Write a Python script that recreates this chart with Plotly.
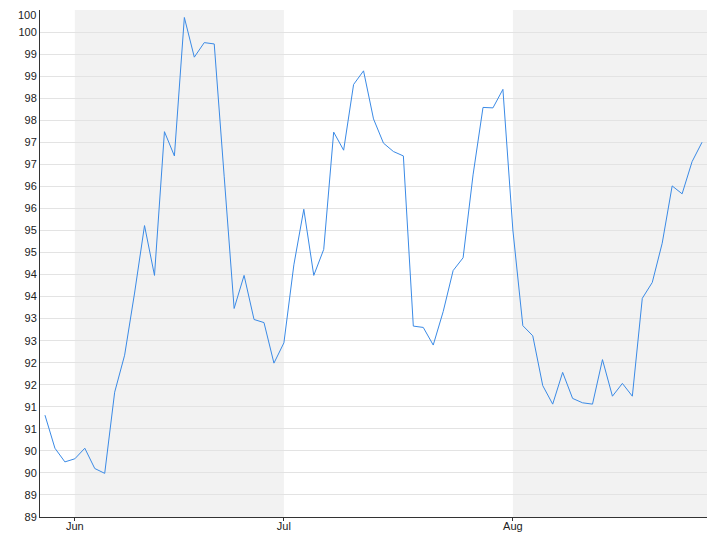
import plotly.graph_objects as go
import pandas as pd
import math

# business days from 2014-05-28 to 2014-08-28
dates = pd.bdate_range("2014-05-28", "2014-08-28").strftime("%Y-%m-%d").tolist()

values = [
    91.31, 90.56, 90.25, 90.32, 90.56, 90.10, 89.99, 91.83, 92.67, 94.08,
    95.61, 94.48, 97.74, 97.19, 100.33, 99.43, 99.76, 99.73, 96.73, 93.73,
    94.48, 93.48, 93.41, 92.49, 92.95, 94.72, 95.98, 94.48, 95.07, 97.73,
    97.32, 98.81, 99.12, 98.03, 97.48, 97.29, 97.19, 93.33, 93.30, 92.90,
    93.66, 94.59, 94.88, 96.76, 98.29, 98.28, 98.70, 95.51, 93.34, 93.11,
    91.98, 91.56, 92.28, 91.69, 91.59, 91.56, 92.57, 91.74, 92.03, 91.74,
    93.96, 94.32, 95.21, 96.51, 96.33, 97.06, 97.50,
]

y_ticks = [89 + 0.5 * k for k in range(24)]
y_ticktext = [str(math.floor(v)) for v in y_ticks]

# month starts (first trading day of each month)
x_tickvals = ["2014-06-02", "2014-07-01", "2014-08-01"]
x_ticktext = ["Jun", "Jul", "Aug"]

bands = [("2014-06-02", "2014-07-01"), ("2014-08-01", "2014-08-28 12:00")]
x_range = ["2014-05-27 12:00", "2014-08-28 12:00"]

fig = go.Figure()
fig.add_trace(go.Scatter(
    x=dates, y=values, mode="lines",
    line=dict(color="#3a8ae6", width=1),
    hoverinfo="x+y",
))

for x0, x1 in bands:
    fig.add_shape(type="rect", xref="x", yref="paper", x0=x0, x1=x1, y0=0, y1=1,
                  fillcolor="#f2f2f2", line=dict(width=0), layer="below")

# topmost tick label is drawn as an annotation kept inside the page
axis_text = y_ticktext[:-1] + [""]
fig.add_annotation(
    text=y_ticktext[-1], xref="paper", yref="paper", x=0, y=1,
    xanchor="right", yanchor="top", xshift=-3, yshift=2,
    showarrow=False, borderpad=0,
    font=dict(family="Liberation Sans, Arial, sans-serif", size=11, color="#222"),
)

# page body has an 8px margin; figure offset accordingly
fig.update_layout(
    width=712, height=532,
    margin=dict(l=32, r=13, t=2, b=23, autoexpand=False),
    paper_bgcolor="white", plot_bgcolor="white",
    showlegend=False,
    font=dict(family="Liberation Sans, Arial, sans-serif", size=11, color="#222"),
)
fig.update_xaxes(
    range=x_range, automargin=False,
    rangebreaks=[dict(bounds=["sat", "mon"])],
    tickmode="array", tickvals=x_tickvals, ticktext=x_ticktext,
    showgrid=False, showline=True, linecolor="#333", linewidth=1,
    ticks="outside", ticklen=3, tickcolor="#333",
    ticklabelstandoff=-4, ticklabeloverflow="allow",
    zeroline=False,
)
fig.update_yaxes(
    range=[89, 100.5], automargin=False,
    tickmode="array", tickvals=y_ticks, ticktext=axis_text,
    showgrid=True, gridcolor="#e3e3e3", gridwidth=1,
    showline=True, linecolor="#333", linewidth=1,
    ticks="", zeroline=False, ticklabeloverflow="allow",
)

fig.write_html("out.html")
